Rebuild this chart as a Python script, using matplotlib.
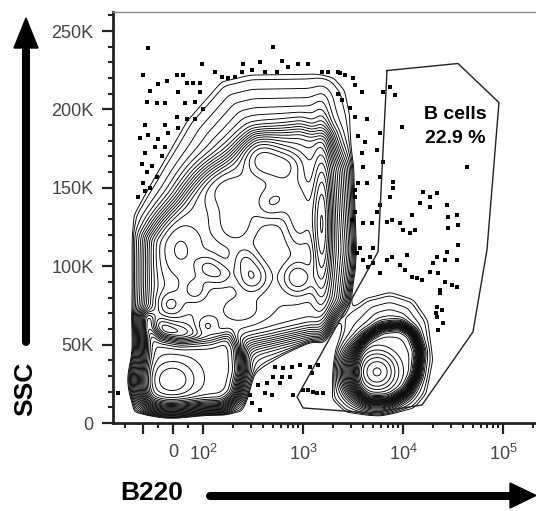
import numpy as np
import matplotlib
matplotlib.use("Agg")
from matplotlib import pyplot as plt
from matplotlib.lines import Line2D
from matplotlib.patches import Polygon
from matplotlib.path import Path

plt.rcParams['font.family'] = ['Liberation Sans', 'DejaVu Sans']
plt.rcParams['mathtext.fontset'] = 'custom'
plt.rcParams['mathtext.rm'] = 'Liberation Sans'
plt.rcParams['mathtext.it'] = 'Liberation Sans:italic'

# ---- data ----
# B cell gate vertices (B220 intensity, SSC in K)
gate_b220 = [6918, 35500, 91200, 69200, 50100, 15500, 4677, 1000, 871, 5623]
gate_ssc = [224.8, 229.3, 204.4, 110.5, 58.1, 11.5, 6.4, 9.6, 16.6, 109.2]
gate_name = "B cells"
gate_pct = "22.9 %"

# outlines of the populations (B220, SSC K)
main_b220 = [-126, -129, -93, 40, 148, 295, 1318, 2089, 2754, 3090, 3090, 2630, 1479, 661, 331, 251]
main_ssc = [6.4, 132.8, 148.8, 193.5, 219.0, 223.5, 224.1, 221.6, 212.7, 196.7, 97.7, 78.5, 56.2, 43.4, 30.7, 6.4]
core_b220 = [-77, -70, 57, 166, 331, 933, 1660, 2239, 2512, 2239, 1413, 468, 234, 90, -60]
core_ssc = [78.5, 116.9, 145.6, 164.8, 182.0, 185.8, 180.7, 161.6, 110.5, 78.5, 62.6, 56.2, 53.0, 56.2, 65.8]
low_b220 = [-83, -83, -70, -27, 155, 195, 219, 209, 178, 117, 23, -43, -77]
low_ssc = [67.1, 19.8, 14.7, 13.4, 14.0, 19.2, 33.8, 47.9, 54.9, 51.7, 50.4, 53.0, 59.4]
bcell_b220 = [3467, 3631, 4365, 6166, 9333, 12023, 13804, 12882, 10471, 7413, 4467, 3548]
bcell_ssc = [33.8, 45.3, 53.0, 59.4, 60.7, 56.2, 45.3, 31.3, 21.1, 16.0, 16.0, 22.4]
halo_b220 = [1862, 2089, 2630, 4169, 7413, 13183, 18621, 20893, 17783, 13183, 5888, 2630]
halo_ssc = [14.7, 46.6, 65.8, 80.5, 84.9, 79.8, 65.8, 40.2, 17.9, 8.3, 4.5, 5.7]

# local density peaks: centre (B220, SSC K), spread (decades, K), height
peak_b220 = [1549, 389, 661, 309, 891, 110, 110, 209, 933, 5495, -3,
             186, 661, 468, -10, 73, 148, 263, 23, 234]
peak_ssc = [126.4, 168.0, 148.8, 93.2, 92.6, 99.0, 61.3, 126.4, 129.6, 32.6, 27.5,
            148.8, 164.8, 139.2, 75.4, 84.9, 94.5, 104.1, 110.5, 72.2]
peak_sd_dec = [0.05, 0.12, 0.15, 0.10, 0.10, 0.08, 0.07, 0.15, 0.10, 0.12, 0.15,
               0.20, 0.12, 0.10, 0.08, 0.08, 0.08, 0.08, 0.15, 0.15]
peak_sd_ssc = [25.5, 7.7, 9.6, 6.4, 6.4, 5.1, 4.5, 9.6, 12.8, 7.7, 8.0,
               9.6, 6.4, 6.4, 5.1, 5.1, 5.1, 5.1, 12.8, 6.4]
peak_height = [50, 20, 12, 18, 18, 12, 10, 10, 15, 200, 60,
               10, 15, 12, 10, 10, 10, 10, 8, 6]

# outlier events (B220, SSC K)
dot_b220 = [-83, -100, -50, -20, 13, 33, -77, 17, 47, 67, 90, -87, -53, -27, 40, 73, 90, 100,
            13, 47, 73, -93, -27, 17, -107, -83, -50, -17, -60, -27, -93, -102, -70, -37,
            -87, -53, -100, -77, -112, -93, 97,
            132, 155, 178, 209, 251, 245, 309, 372, 417, 550, 617, 708, 891, 1122, 1549,
            1778, 2239, 2630, 3162, 3890, 2239, 2455, 2951, 3311, 4365, 3548, 4169, 3890,
            3981, 3548, 3311, 501,
            2344, 3311, 7413, 8318, 6310, 9772, 5888, 5495, 6310, 5888, 4365, 7943, 3311,
            7943, 7413, 5888, 43652, 15849, 18621, 21878, 14791, 18621, 27542, 12303, 3311,
            3090, 3981, 4898, 5495, 6918, 7762, 9333, 10000, 11749, 13183, 28184, 34674,
            35481, 28184, 3715, 5012, 3981, 4467, 6918, 7762, 9333, 10471, 10965, 12303,
            13804, 15488, 19953, 21878, 27542, 26303, 35481, 34674, 18621, 22387, 26303,
            30903, 34674, 23442, 23442, 21878, 21380, 5888, 5012, 3467, 4677, 21878, 24547,
            22387, 25119,
            525, 631, 776, 933, 1175, 1413, 501, 617, 741, 1230, 589, 437, 355, 417, 295,
            490, 309, 372, 794, 1122, 1380, 1585, 1000, 1259, -178]
dot_ssc = [239, 222, 216, 218, 222, 222, 212, 211, 217, 217, 217, 205, 204, 204, 204, 205, 211, 200,
           195, 194, 194, 190, 190, 188, 182, 184, 181, 185, 176, 176, 172, 165, 164, 170,
           160, 157, 153, 150, 144, 148, 229,
           224, 221, 220, 221, 229, 224, 225, 230, 224, 224, 231, 227, 229, 229, 224,
           224, 224, 222, 220, 211, 210, 206, 201, 195, 194, 183, 179, 172,
           163, 153, 144, 240,
           223.5, 215.8, 214.6, 209.5, 211.4, 189.0, 185.2, 174.3, 166.7, 157.1, 153.3, 153.9, 148.8,
           150.1, 144.3, 139.2, 163.5, 147.5, 144.3, 146.9, 140.5, 137.9, 139.2, 132.8, 134.7,
           129.6, 127.7, 127.7, 134.7, 128.4, 129.6, 127.7, 123.2, 121.3, 123.2, 131.5, 132.8,
           126.4, 124.5, 111.8, 111.8, 104.1, 99.6, 104.1, 106.0, 100.9, 97.7, 107.3, 93.2,
           92.6, 91.3, 102.2, 106.0, 109.2, 104.1, 113.7, 104.1, 96.4, 95.8, 90.0,
           88.1, 86.8, 84.9, 83.0, 74.1, 70.2, 95.8, 102.2, 108.6, 106.0, 67.7, 72.2,
           59.4, 63.9,
           35.8, 35.1, 35.8, 37.0, 35.8, 37.0, 29.4, 29.4, 29.4, 31.9, 25.5, 25.5, 24.3, 19.2, 17.9,
           17.9, 12.8, 8.3, 17.9, 21.1, 19.2, 19.2, 21.1, 19.8, 19.2]

y_ticks = [0, 50, 100, 150, 200, 250]
y_tick_labels = ['0', '50K', '100K', '150K', '200K', '250K']
x_ticks = [-100, 0, 100, 1000, 10000, 100000]
x_tick_labels = ['', '0', '$10^2$', '$10^3$', '$10^4$', '$10^5$']

LINTHRESH = 100
LINSCALE = 0.27
ADJ = LINSCALE / (1 - 0.1)
SSC_PER_UNIT = 0.6386   # K of SSC per unit of the working grid (one decade = 100 units)


def biex(x):
    x = np.asarray(x, float)
    a = np.maximum(np.abs(x), 1e-9)
    return np.where(a <= LINTHRESH, x / LINTHRESH * ADJ,
                    np.sign(x) * (ADJ + np.log10(a / LINTHRESH)))


def biex_inv(u):
    u = np.asarray(u, float)
    return np.where(np.abs(u) <= ADJ, u / ADJ * LINTHRESH,
                    np.sign(u) * LINTHRESH * 10 ** (np.abs(u) - ADJ))


def inside_dist(gx, gy, b220, ssc):
    # signed distance to an outline, positive inside
    vx = biex(b220) * 100
    vy = np.asarray(ssc, float) / SSC_PER_UNIT
    vx = np.append(vx, vx[0])
    vy = np.append(vy, vy[0])
    d = np.full(gx.shape, np.inf)
    for i in range(len(vx) - 1):
        ex, ey = vx[i + 1] - vx[i], vy[i + 1] - vy[i]
        t = ((gx - vx[i]) * ex + (gy - vy[i]) * ey) / (ex * ex + ey * ey)
        t = np.clip(t, 0, 1)
        d = np.minimum(d, np.hypot(gx - vx[i] - t * ex, gy - vy[i] - t * ey))
    path = Path(np.column_stack([vx, vy]))
    ins = path.contains_points(np.column_stack([gx.ravel(), gy.ravel()])).reshape(gx.shape)
    return np.where(ins, d, -d)


def ramp(d, base, scale, depth, fall=3.0):
    # rises inward from the outline, drops fast outside it
    e = np.where(d > 0, np.minimum(d, depth) / scale, np.maximum(d, -200) / fall)
    return base * np.exp(e)


def plateau(d, height, soft):
    return height / (1 + np.exp(-np.clip(d / soft, -60, 60)))


def blur(a, sigma):
    k = np.arange(-3 * sigma, 3 * sigma + 1)
    k = np.exp(-0.5 * (k / sigma) ** 2)
    k /= k.sum()
    n = len(k) // 2
    a = np.pad(a, n, mode='edge')
    a = np.apply_along_axis(lambda r: np.convolve(r, k, mode='same'), 0, a)
    a = np.apply_along_axis(lambda r: np.convolve(r, k, mode='same'), 1, a)
    return a[n:-n, n:-n]


# ---- density grid ----
xmin, xmax = -200, 214000
ymax = 262.144
uu = np.linspace(biex(xmin), biex(xmax), 560)
yy = np.linspace(0, ymax, 560)
U, Y = np.meshgrid(uu, yy)
GX, GY = U * 100, Y / SSC_PER_UNIT

Z = ramp(inside_dist(GX, GY, main_b220, main_ssc), 1.05, 50, 45)
Z += plateau(inside_dist(GX, GY, core_b220, core_ssc), 12, 5)
Z += plateau(inside_dist(GX, GY, low_b220, low_ssc), 60, 3.0)
Z += ramp(inside_dist(GX, GY, halo_b220, halo_ssc), 1.05, 35, 30)
Z += plateau(inside_dist(GX, GY, bcell_b220, bcell_ssc), 80, 1.5)
for cx, cy, su, sy, h in zip(peak_b220, peak_ssc, peak_sd_dec, peak_sd_ssc, peak_height):
    r2 = ((U - biex(cx)) / su) ** 2 + ((Y - cy) / sy) ** 2
    Z += h * np.exp(-r2 / 2)
Z = np.exp(blur(np.log(Z + 1e-12), 4))
X = biex_inv(U)

levels = 10 ** np.arange(0, 2.7, 1 / 12)

# ---- figure ----
fig = plt.figure(figsize=(5.36, 5.11), dpi=100)
ax = fig.add_axes([113 / 536, 88 / 511, 423 / 536, 411 / 511])
ax.set_xscale('symlog', linthresh=LINTHRESH, linscale=LINSCALE)

ax.contour(X, Y * 1000, Z, levels=levels, colors='black', linewidths=0.65)
ax.plot(dot_b220, np.array(dot_ssc) * 1000, 's', ms=2.5, mew=0, color='black')

gx = list(gate_b220) + [gate_b220[0]]
gy = [v * 1000 for v in gate_ssc] + [gate_ssc[0] * 1000]
ax.plot(gx, gy, color='#222222', lw=1.0)
ax.text(33100, 194100, gate_name, ha='center', va='baseline', fontsize=14, fontweight='bold')
ax.text(33100, 178800, gate_pct, ha='center', va='baseline', fontsize=14, fontweight='bold')

ax.set_xlim(xmin, xmax)
ax.set_ylim(0, ymax * 1000)

ax.set_xticks(x_ticks)
ax.set_xticklabels(x_tick_labels)
minor_x = [-150, -50, 50]
for d in [100, 1000, 10000]:
    minor_x += [k * d for k in range(2, 10)]
minor_x += [200000]
ax.set_xticks(minor_x, minor=True)
ax.set_yticks([v * 1000 for v in y_ticks])
ax.set_yticklabels(y_tick_labels)
ax.set_yticks(np.arange(0, 261, 10) * 1000, minor=True)

ax.tick_params(which='major', direction='out', length=8, width=1.6, color='#222222',
               labelsize=13, labelcolor='#444444')
ax.tick_params(axis='x', which='major', pad=7)
ax.tick_params(axis='y', which='major', pad=6)
ax.tick_params(which='minor', direction='out', length=3.5, width=1.5, color='#222222')

for s in ['left', 'bottom']:
    ax.spines[s].set_linewidth(2)
    ax.spines[s].set_color('#222222')
ax.spines['top'].set_linewidth(1)
ax.spines['top'].set_color('#888888')
ax.spines['right'].set_visible(False)

# axis names with arrows
fig.text(25 / 536, (511 - 389) / 511, 'SSC', rotation=90, ha='center', va='center',
         fontsize=19, fontweight='bold')
fig.text(152 / 536, (511 - 493) / 511, 'B220', ha='center', va='center',
         fontsize=19, fontweight='bold')

tr = fig.dpi_scale_trans
fig.add_artist(Line2D([0.26, 0.26], [1.69, 4.64], lw=5.8, color='black',
                      solid_capstyle='round', transform=tr))
fig.add_artist(Polygon([[0.14, 4.63], [0.38, 4.63], [0.26, 4.93]], closed=True,
                       color='black', transform=tr))
fig.add_artist(Line2D([2.10, 5.11], [0.15, 0.15], lw=5.8, color='black',
                      solid_capstyle='round', transform=tr))
fig.add_artist(Polygon([[5.10, 0.28], [5.10, 0.03], [5.36, 0.155]], closed=True,
                       color='black', transform=tr))

fig.savefig('out.png', dpi=100)
